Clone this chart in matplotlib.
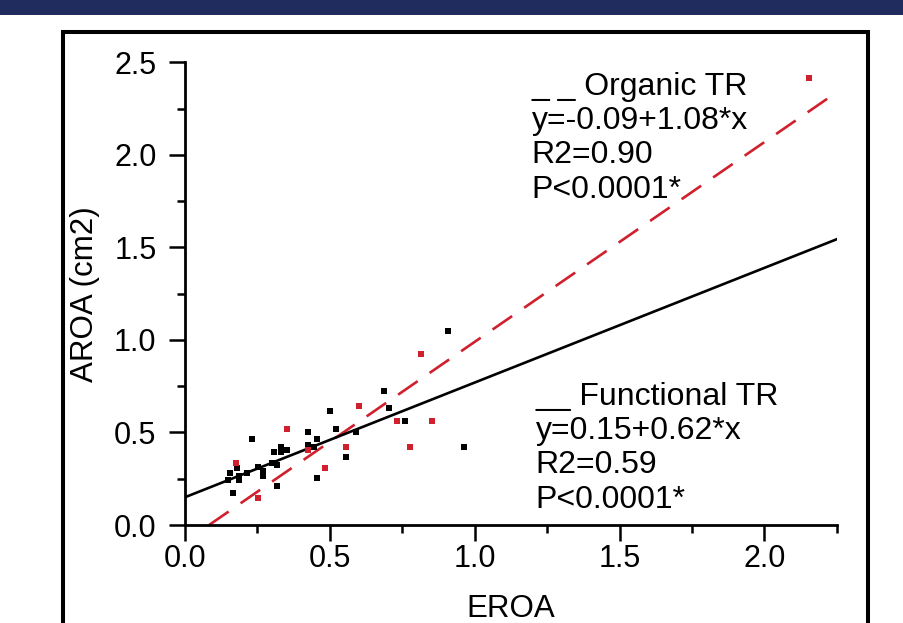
import matplotlib.pyplot as plt
import matplotlib.patches as patches
import numpy as np

plt.rcParams['font.family'] = ['Liberation Sans', 'DejaVu Sans']

# functional TR measurements (black)
func_eroa = [0.149, 0.155, 0.167, 0.178, 0.187, 0.187, 0.213, 0.233, 0.251, 0.270,
             0.270, 0.302, 0.307, 0.316, 0.316, 0.333, 0.333, 0.351, 0.426, 0.426,
             0.445, 0.454, 0.454, 0.500, 0.520, 0.555, 0.592, 0.686, 0.705, 0.759,
             0.908, 0.962]
func_aroa = [0.243, 0.283, 0.171, 0.306, 0.266, 0.243, 0.283, 0.463, 0.312, 0.294,
             0.265, 0.337, 0.393, 0.324, 0.211, 0.420, 0.393, 0.405, 0.505, 0.432,
             0.420, 0.463, 0.256, 0.618, 0.519, 0.366, 0.505, 0.726, 0.631, 0.561,
             1.049, 0.422]

# organic TR measurements (red)
org_eroa = [0.176, 0.251, 0.351, 0.426, 0.482, 0.556, 0.601, 0.731, 0.777, 0.815,
            0.852, 2.155]
org_aroa = [0.337, 0.144, 0.519, 0.405, 0.310, 0.422, 0.643, 0.561, 0.422, 0.923,
            0.561, 2.416]

# regression fits (intercept, slope)
func_fit = (0.15, 0.62)
org_fit = (-0.09, 1.08)

func_text = "__ Functional TR\ny=0.15+0.62*x\nR2=0.59\nP<0.0001*"
org_text = "_ _ Organic TR\ny=-0.09+1.08*x\nR2=0.90\nP<0.0001*"

red = '#d0202e'
navy = '#202c5e'

fig = plt.figure(figsize=(9.04, 6.23), dpi=100)
ax = fig.add_axes([0.2046, 0.1573, 0.7212, 0.7424])

# outer frame and header strip
fig.patches.append(patches.Rectangle((0, 0.9759), 1, 0.03, transform=fig.transFigure,
                                     facecolor=navy, edgecolor='none'))
fig.patches.append(patches.Rectangle((0.0697, -0.1), 0.891, 1.0486, transform=fig.transFigure,
                                     facecolor='none', edgecolor='black', linewidth=2.9))

# organic fit starts where it crosses y=0 so the dash pattern begins on the axis
x_org = np.array([-org_fit[0] / org_fit[1], 2.25])
x_func = np.array([0.0, 2.25])
ax.plot(x_org, org_fit[0] + org_fit[1] * x_org, color=red, lw=1.9,
        linestyle=(0, (9, 5.5)))
ax.plot(x_func, func_fit[0] + func_fit[1] * x_func, color='black', lw=1.9)

ax.plot(func_eroa, func_aroa, 's', color='black', markersize=4.4, markeredgewidth=0)
ax.plot(org_eroa, org_aroa, 's', color=red, markersize=4.4, markeredgewidth=0)

ax.set_xlim(0, 2.25)
ax.set_ylim(0, 2.5)
ax.set_xticks(np.arange(0, 2.01, 0.5))
ax.set_yticks(np.arange(0, 2.51, 0.5))
ax.set_xticks(np.arange(0.25, 2.26, 0.5), minor=True)
ax.set_yticks(np.arange(0.25, 2.5, 0.5), minor=True)
ax.xaxis.set_major_formatter(plt.FormatStrFormatter('%.1f'))
ax.yaxis.set_major_formatter(plt.FormatStrFormatter('%.1f'))

for side in ['top', 'right']:
    ax.spines[side].set_visible(False)
for side in ['left', 'bottom']:
    ax.spines[side].set_linewidth(2.0)

ax.tick_params(which='major', direction='out', length=11.5, width=1.8, labelsize=22)
ax.tick_params(which='minor', direction='out', length=5.5, width=1.8)
ax.tick_params(axis='x', which='major', pad=2)
ax.tick_params(axis='y', which='major', pad=9)

ax.set_xlabel('EROA', fontsize=22.5)
ax.set_ylabel('AROA (cm2)', fontsize=22.5)
ax.xaxis.set_label_coords(0.5, -0.150)
ax.yaxis.set_label_coords(-0.13, 0.5)

ax.text(0.532, 0.979, org_text, transform=ax.transAxes, fontsize=23,
        va='top', ha='left', linespacing=1.18)
ax.text(0.538, 0.309, func_text, transform=ax.transAxes, fontsize=23,
        va='top', ha='left', linespacing=1.18)

fig.savefig('out.png', dpi=100)
